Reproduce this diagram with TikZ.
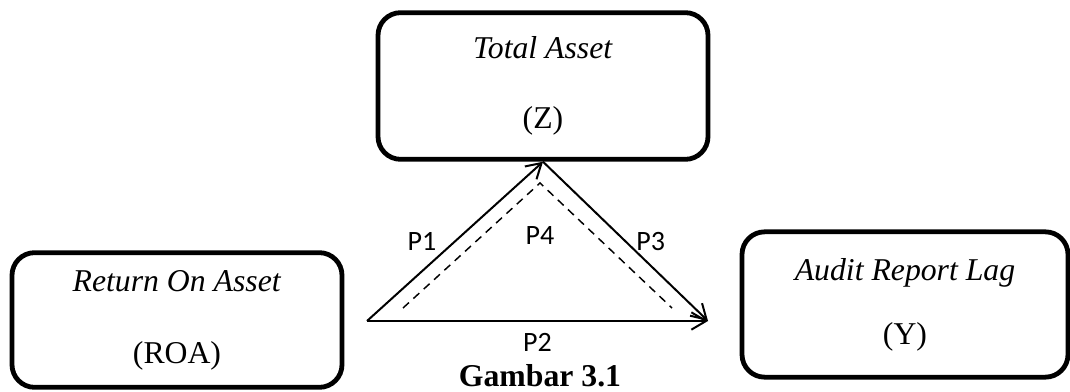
\documentclass[tikz,border=0pt]{standalone}
\usepackage{fontspec}
\setmainfont{Liberation Serif}
\newfontfamily\calibri{Carlito}
\usetikzlibrary{arrows.meta, positioning}

\begin{document}
\begin{tikzpicture}[
  x=0.75pt, y=-0.75pt,
  varbox/.style={draw, rectangle, rounded corners=17pt, line width=3.6pt, align=center, inner sep=0pt, font=\fontsize{23.8}{28}\selectfont},
  link/.style={line width=1.5pt, -{Straight Barb[length=11pt, width=13pt, line width=1.5pt]}},
  indirect/.style={line width=1.1pt, dash pattern=on 6pt off 4.5pt},
  plabel/.style={font=\calibri\fontsize{21}{25}\selectfont}
]
\useasboundingbox (0,0) rectangle (1070,392);

\node[varbox, minimum width=247.5pt, minimum height=110pt] (tot) at (543,86)    {\textit{Total Asset}\\[24pt](Z)};
\node[varbox, minimum width=247.5pt, minimum height=101pt] (roa) at (177,320) {\textit{Return On Asset}\\[26pt](ROA)};
\node[varbox, minimum width=244.5pt, minimum height=109pt] (arl) at (905,304.5) {\textit{Audit Report Lag}\\[20pt](Y)};

\coordinate (lv) at (367,321);
\coordinate (rv) at (708,321);
\coordinate (d1) at (403,308);
\coordinate (d2) at (540,183);
\coordinate (d3) at (672,308);

\draw[link] (lv) -- node[plabel, midway, left=10pt] {P1} (tot.south);
\draw[link] (tot.south) -- node[plabel, midway, right=4pt] {P3} (rv);
\draw[link] (lv) -- node[plabel, midway, below=5pt] {P2} (rv);
\draw[indirect] (d1) -- (d2) -- (d3);
\node[plabel] (p4) [below=29pt of d2] {P4};

\node[font=\fontsize{23.8}{28}\selectfont\bfseries, inner sep=1pt] (fig) at (540,376) {Gambar 3.1};
\end{tikzpicture}
\end{document}
